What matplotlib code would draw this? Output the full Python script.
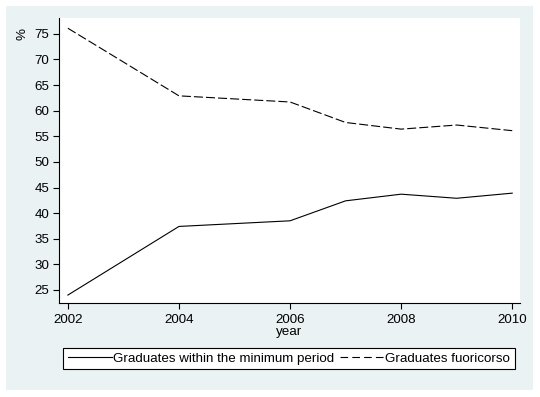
import numpy as np
import matplotlib
matplotlib.use("Agg")
import matplotlib.pyplot as plt
from matplotlib.patches import Rectangle

plt.rcParams['font.family'] = ['Liberation Sans', 'DejaVu Sans']
plt.rcParams['lines.scale_dashes'] = False

years = [2002, 2004, 2006, 2007, 2008, 2009, 2010]
within_min = [24.0, 37.4, 38.5, 42.4, 43.7, 42.9, 43.9]
fuoricorso = [76.1, 62.9, 61.7, 57.7, 56.4, 57.2, 56.1]
xticks = [2002, 2004, 2006, 2008, 2010]
yticks = [25, 30, 35, 40, 45, 50, 55, 60, 65, 70, 75]

W, H = 540, 397
fs = 9.6
fig = plt.figure(figsize=(W / 100, H / 100), dpi=100)
fig.patch.set_facecolor('white')

# light blue-grey graph region (Stata s2color-ish)
fig.patches.append(Rectangle((6 / W, 1 - 390 / H), 527 / W, 384 / H,
                             transform=fig.transFigure, facecolor='#EAF2F3',
                             edgecolor='none', zorder=-5))

ax = fig.add_axes([59 / W, 1 - 303 / H, 461 / W, 285 / H])
ax.set_facecolor('white')

ax.plot(years, within_min, color='black', lw=0.8,
        label='Graduates within the minimum period')
ax.plot(years, fuoricorso, color='black', lw=0.8, dashes=(6.5, 2.2),
        label='Graduates fuoricorso')

ax.set_xlim(2001.84, 2010.14)
ax.set_ylim(22.45, 78.1)
ax.set_xticks(xticks)
ax.set_yticks(yticks)
ax.tick_params(labelsize=fs, length=4, width=0.8, color='black', pad=3)
ax.tick_params(axis='x', pad=4)
for s in ['top', 'right']:
    ax.spines[s].set_visible(False)
for s in ['left', 'bottom']:
    ax.spines[s].set_linewidth(0.8)

ax.set_xlabel('year', fontsize=fs, labelpad=0)
fig.text(23 / W, 1 - 34 / H, '%', rotation=90, fontsize=fs,
         ha='center', va='center')

leg = ax.legend(loc='center', bbox_to_anchor=(289 / W, 1 - 358.5 / H),
                bbox_transform=fig.transFigure, ncol=2, fontsize=fs,
                frameon=True, fancybox=False, edgecolor='black',
                framealpha=1, handlelength=3.3, handletextpad=0.1,
                columnspacing=0.4, borderpad=0.35, borderaxespad=0)
leg.get_frame().set_linewidth(0.8)
leg.get_lines()[1].set_dashes((5.5, 3.0))

fig.savefig('out.png', dpi=100)
